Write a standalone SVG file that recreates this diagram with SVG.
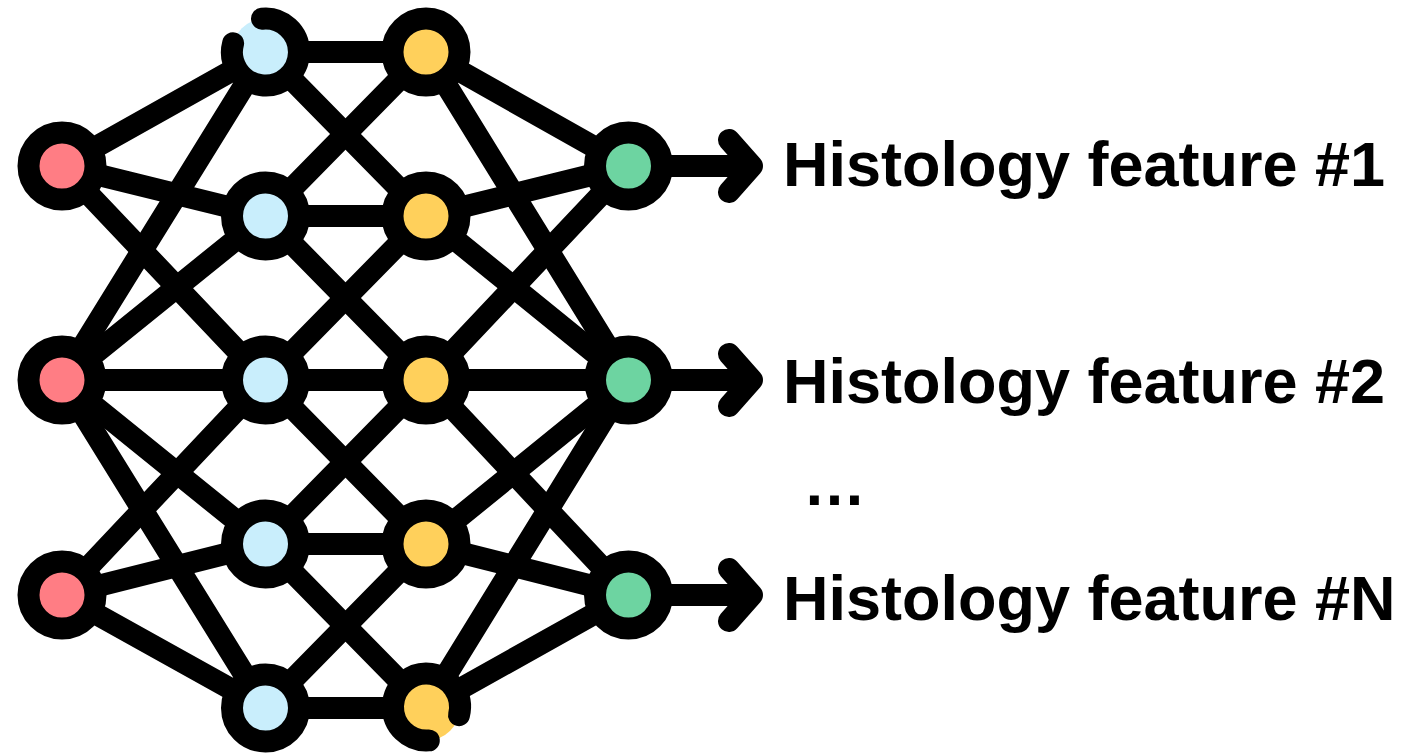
<svg xmlns="http://www.w3.org/2000/svg" width="1417" height="756" viewBox="0 0 1417 756">
  <style>
    .edge { stroke: #000; stroke-width: 22; stroke-linecap: round; fill: none; }
    .ring { stroke: #000; stroke-width: 22; }
    .arc { stroke: #000; stroke-width: 22; stroke-linecap: round; fill: none; }
    .in { fill: #FF7D84; }
    .h1 { fill: #C9EEFC; }
    .h2 { fill: #FFD05B; }
    .out { fill: #6DD4A1; }
    .arrow { stroke: #000; stroke-width: 22; stroke-linecap: round; stroke-linejoin: round; fill: none; }
    .label { font-family: "Liberation Sans", Arial, sans-serif; font-weight: bold; font-size: 63px; fill: #000; }
  </style>

  <!-- connectors between layers -->
  <g id="connectors" class="edge">
    <!-- input -> hidden 1 -->
    <line x1="62" y1="166" x2="265" y2="52"/>
    <line x1="62" y1="166" x2="265" y2="216"/>
    <line x1="62" y1="166" x2="265" y2="380"/>
    <line x1="62" y1="380" x2="265" y2="52"/>
    <line x1="62" y1="380" x2="265" y2="216"/>
    <line x1="62" y1="380" x2="265" y2="380"/>
    <line x1="62" y1="380" x2="265" y2="544"/>
    <line x1="62" y1="380" x2="265" y2="708"/>
    <line x1="62" y1="595" x2="265" y2="380"/>
    <line x1="62" y1="595" x2="265" y2="544"/>
    <line x1="62" y1="595" x2="265" y2="708"/>
    <!-- hidden 1 -> hidden 2 -->
    <line x1="265" y1="52" x2="426" y2="52"/>
    <line x1="265" y1="52" x2="426" y2="216"/>
    <line x1="265" y1="216" x2="426" y2="52"/>
    <line x1="265" y1="216" x2="426" y2="216"/>
    <line x1="265" y1="216" x2="426" y2="380"/>
    <line x1="265" y1="380" x2="426" y2="216"/>
    <line x1="265" y1="380" x2="426" y2="380"/>
    <line x1="265" y1="380" x2="426" y2="544"/>
    <line x1="265" y1="544" x2="426" y2="380"/>
    <line x1="265" y1="544" x2="426" y2="544"/>
    <line x1="265" y1="544" x2="426" y2="708"/>
    <line x1="265" y1="708" x2="426" y2="544"/>
    <line x1="265" y1="708" x2="426" y2="708"/>
    <!-- hidden 2 -> output -->
    <line x1="426" y1="52" x2="628" y2="166"/>
    <line x1="426" y1="216" x2="628" y2="166"/>
    <line x1="426" y1="380" x2="628" y2="166"/>
    <line x1="426" y1="52" x2="628" y2="380"/>
    <line x1="426" y1="216" x2="628" y2="380"/>
    <line x1="426" y1="380" x2="628" y2="380"/>
    <line x1="426" y1="544" x2="628" y2="380"/>
    <line x1="426" y1="708" x2="628" y2="380"/>
    <line x1="426" y1="380" x2="628" y2="595"/>
    <line x1="426" y1="544" x2="628" y2="595"/>
    <line x1="426" y1="708" x2="628" y2="595"/>
  </g>

  <!-- output arrows -->
  <g id="arrows" class="arrow">
    <path d="M628 166 H752 M729 140 L752 166 L729 192"/>
    <path d="M628 380 H752 M729 354 L752 380 L729 406"/>
    <path d="M628 595 H752 M729 569 L752 595 L729 621"/>
  </g>

  <!-- input layer -->
  <g id="in1"><circle class="in ring" cx="62" cy="166" r="33.5"/></g>
  <g id="in2"><circle class="in ring" cx="62" cy="380" r="33.5"/></g>
  <g id="in3"><circle class="in ring" cx="62" cy="595" r="33.5"/></g>

  <!-- hidden layer 1 -->
  <g id="h1n1">
    <circle class="h1" cx="265.5" cy="52" r="33.5"/>
    <path class="arc" d="M262 18.7 A33.5 33.5 0 1 1 233.1 43.3"/>
  </g>
  <g id="h1n2"><circle class="h1 ring" cx="265.5" cy="216" r="33.5"/></g>
  <g id="h1n3"><circle class="h1 ring" cx="265.5" cy="380" r="33.5"/></g>
  <g id="h1n4"><circle class="h1 ring" cx="265.5" cy="544" r="33.5"/></g>
  <g id="h1n5"><circle class="h1 ring" cx="265.5" cy="708" r="33.5"/></g>

  <!-- hidden layer 2 -->
  <g id="h2n1"><circle class="h2 ring" cx="426" cy="52" r="33.5"/></g>
  <g id="h2n2"><circle class="h2 ring" cx="426" cy="216" r="33.5"/></g>
  <g id="h2n3"><circle class="h2 ring" cx="426" cy="380" r="33.5"/></g>
  <g id="h2n4"><circle class="h2 ring" cx="426" cy="544" r="33.5"/></g>
  <g id="h2n5">
    <circle class="h2" cx="426.5" cy="707" r="33.5"/>
    <path class="arc" d="M428.8 740.4 A33.5 33.5 0 1 1 459 715.1"/>
  </g>

  <!-- output layer -->
  <g id="out1"><circle class="out ring" cx="628.5" cy="166" r="33.5"/></g>
  <g id="out2"><circle class="out ring" cx="628.5" cy="380" r="33.5"/></g>
  <g id="out3"><circle class="out ring" cx="628.5" cy="595" r="33.5"/></g>

  <!-- feature labels -->
  <g id="labels" class="label">
    <text x="783" y="186">Histology feature #1</text>
    <text x="783" y="403">Histology feature #2</text>
    <text x="803" y="505">…</text>
    <text x="783" y="620">Histology feature #N</text>
  </g>
</svg>
